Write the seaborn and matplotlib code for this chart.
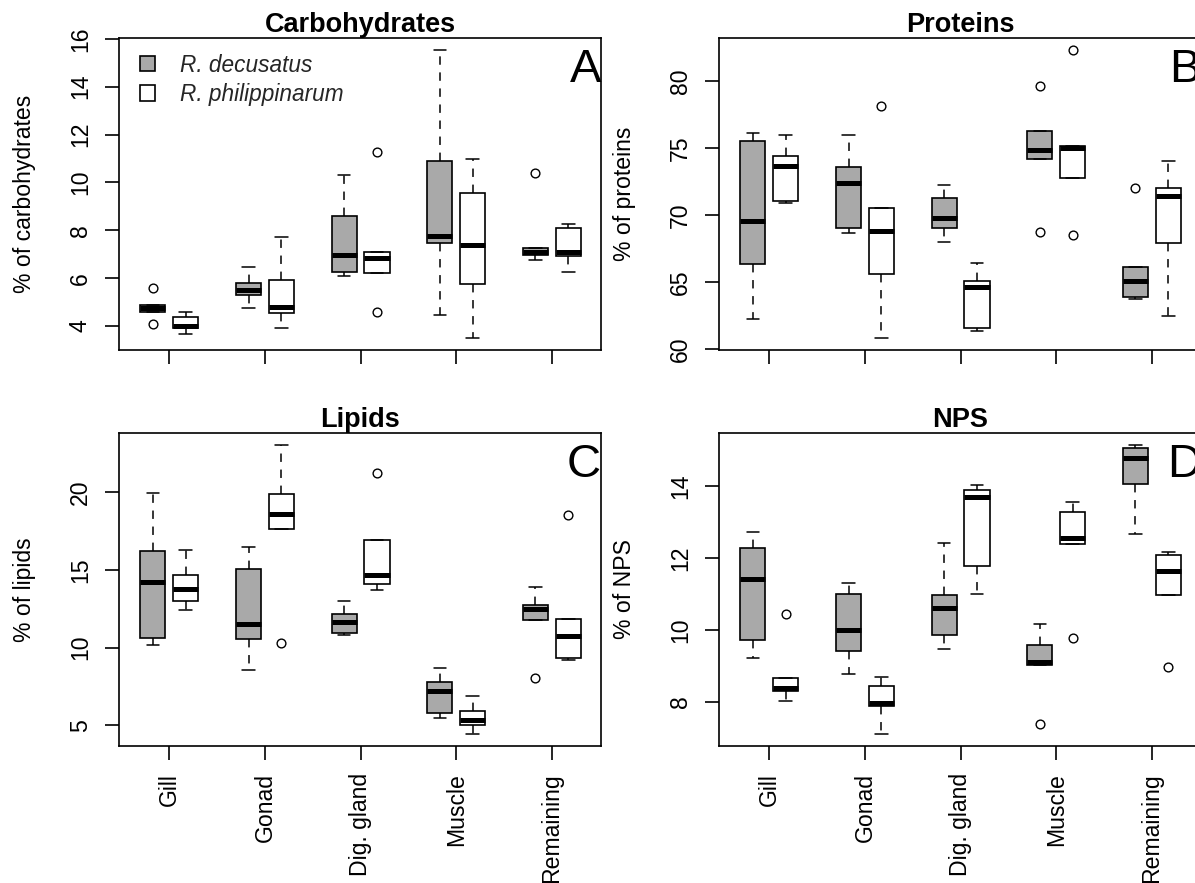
import numpy as np
import pandas as pd
import matplotlib
matplotlib.use("Agg")
import matplotlib.pyplot as plt
from matplotlib.patches import Patch
import seaborn as sns

# ---------------- data ----------------
tissues = ["Gill", "Gonad", "Dig. gland", "Muscle", "Remaining"]
species = ["R. decusatus", "R. philippinarum"]
species_colors = ["#A9A9A9", "#FFFFFF"]

# five samples per tissue (Gill, Gonad, Dig. gland, Muscle, Remaining)
carb_decusatus = [[4.08, 4.59, 4.74, 4.89, 5.60],
                  [4.74, 5.31, 5.51, 5.80, 6.48],
                  [6.07, 6.26, 6.96, 8.60, 10.29],
                  [4.46, 7.46, 7.77, 10.91, 15.55],
                  [6.75, 6.97, 7.11, 7.25, 10.39]]
carb_philippinarum = [[3.65, 3.92, 4.01, 4.36, 4.57],
                      [3.93, 4.55, 4.80, 5.93, 7.71],
                      [4.60, 6.20, 6.83, 7.08, 11.27],
                      [3.48, 5.74, 7.39, 9.55, 10.98],
                      [6.27, 6.93, 7.08, 8.09, 8.26]]

prot_decusatus = [[62.21, 66.32, 69.53, 75.52, 76.12],
                  [68.68, 69.03, 72.41, 73.58, 75.97],
                  [67.94, 68.98, 69.78, 71.22, 72.19],
                  [68.73, 74.20, 74.85, 76.25, 79.60],
                  [63.68, 63.88, 65.07, 66.07, 72.04]]
prot_philippinarum = [[70.90, 71.00, 73.68, 74.40, 75.97],
                      [60.77, 65.60, 68.81, 70.50, 78.15],
                      [61.34, 61.52, 64.63, 65.07, 66.44],
                      [68.48, 72.76, 75.00, 75.17, 82.34],
                      [62.46, 67.86, 71.42, 72.01, 74.03]]

lip_decusatus = [[10.14, 10.59, 14.22, 16.22, 19.96],
                 [8.58, 10.55, 11.54, 15.04, 16.46],
                 [10.78, 10.96, 11.65, 12.14, 12.99],
                 [5.50, 5.78, 7.22, 7.76, 8.67],
                 [8.04, 11.76, 12.45, 12.77, 13.87]]
lip_philippinarum = [[12.42, 13.01, 13.74, 14.67, 16.29],
                     [10.31, 17.60, 18.58, 19.85, 23.05],
                     [13.70, 14.10, 14.69, 16.90, 21.25],
                     [4.42, 5.00, 5.35, 5.95, 6.92],
                     [9.23, 9.34, 10.72, 11.84, 18.53]]

nps_decusatus = [[9.21, 9.72, 11.43, 12.29, 12.72],
                 [8.78, 9.42, 10.01, 10.99, 11.31],
                 [9.47, 9.87, 10.62, 10.97, 12.41],
                 [7.39, 9.03, 9.10, 9.59, 10.17],
                 [12.67, 14.05, 14.77, 15.06, 15.15]]
nps_philippinarum = [[8.02, 8.30, 8.40, 8.67, 10.45],
                     [7.10, 7.88, 7.97, 8.45, 8.70],
                     [11.01, 11.77, 13.70, 13.88, 14.03],
                     [9.79, 12.39, 12.56, 13.28, 13.56],
                     [8.98, 10.96, 11.64, 12.07, 12.18]]

panel_titles = ["Carbohydrates", "Proteins", "Lipids", "NPS"]
panel_ylabels = ["% of carbohydrates", "% of proteins", "% of lipids", "% of NPS"]
panel_letters = ["A", "B", "C", "D"]
yticks_carb = [4, 6, 8, 10, 12, 14, 16]
yticks_prot = [60, 65, 70, 75, 80]
yticks_lip = [5, 10, 15, 20]
yticks_nps = [8, 10, 12, 14]

# ---------------- style ----------------
sns.set_theme(style="ticks")
plt.rcParams["font.family"] = ["Liberation Sans", "DejaVu Sans"]

W, H = 1195, 883
fig = plt.figure(figsize=(W / 100, H / 100), dpi=100)
fig.patch.set_facecolor("white")


def px_axes(left, top, right, bottom):
    return fig.add_axes([left / W, 1 - bottom / H, (right - left) / W, (bottom - top) / H])


def long_frame(dec, phi):
    rows = []
    for sp, groups in zip(species, [dec, phi]):
        for t, vals in zip(tissues, groups):
            for v in vals:
                rows.append((t, sp, v))
    return pd.DataFrame(rows, columns=["tissue", "species", "value"])


panels = [
    (carb_decusatus, carb_philippinarum, yticks_carb, (119, 38, 601, 350), False),
    (prot_decusatus, prot_philippinarum, yticks_prot, (719, 38, 1201, 350), False),
    (lip_decusatus, lip_philippinarum, yticks_lip, (119, 433, 601, 746), True),
    (nps_decusatus, nps_philippinarum, yticks_nps, (719, 433, 1201, 746), True),
]

palette = dict(zip(species, species_colors))

for i, (dec, phi, yt, box, show_x) in enumerate(panels):
    ax = px_axes(*box)
    df = long_frame(dec, phi)
    sns.boxplot(
        data=df, x="tissue", y="value", hue="species",
        order=tissues, hue_order=species, palette=palette, saturation=1,
        width=0.687, gap=0.235, linecolor="black", linewidth=1.2,
        whis=1.5, fliersize=6.3, legend=False, ax=ax,
        medianprops=dict(color="black", linewidth=3.6, solid_capstyle="butt"),
        whiskerprops=dict(color="black", linestyle=(0, (5.5, 5)), linewidth=1.1),
        capprops=dict(color="black", linewidth=1.1),
        flierprops=dict(marker="o", markerfacecolor="none",
                        markeredgecolor="black", markeredgewidth=1.0),
    )
    lo, hi = df["value"].min(), df["value"].max()
    pad = 0.04 * (hi - lo)
    ax.set_ylim(lo - pad, hi + pad)
    ax.set_xlim(-0.526, 4.514)
    ax.set_yticks(yt)
    ax.set_yticklabels([str(v) for v in yt])
    ax.set_xlabel("")
    ax.set_ylabel(panel_ylabels[i], fontsize=16.6, color="black")
    ax.yaxis.set_label_coords(-0.172, 0.5)
    ax.set_title(panel_titles[i], fontsize=19.5, fontweight="bold", pad=1.5, color="black")
    ax.set_facecolor("white")
    for sp in ax.spines.values():
        sp.set_visible(True)
        sp.set_linewidth(1.2)
        sp.set_color("black")
    ax.tick_params(axis="both", direction="out", length=10, width=1.2,
                   color="black", labelsize=16.6, labelcolor="black")
    ax.tick_params(axis="y", pad=9.5, labelrotation=90)
    for lab in ax.get_yticklabels():
        lab.set_va("center")
    if show_x:
        ax.tick_params(axis="x", pad=9.5, labelrotation=90)
    else:
        ax.tick_params(axis="x", labelbottom=False)
    ax.text(1.0, 0.859, panel_letters[i], transform=ax.transAxes,
            ha="right", va="baseline", fontsize=34, color="black")
    if i == 0:
        handles = [Patch(facecolor=c, edgecolor="black", linewidth=1.2) for c in species_colors]
        ax.legend(handles, species, loc="upper left", bbox_to_anchor=(0.043, 0.95),
                  frameon=False, prop=dict(style="italic", size=16.3),
                  handlelength=0.68, handleheight=0.68, handletextpad=1.1,
                  labelspacing=0.28, borderpad=0, borderaxespad=0)

fig.savefig("out.png", dpi=100, facecolor="white")
